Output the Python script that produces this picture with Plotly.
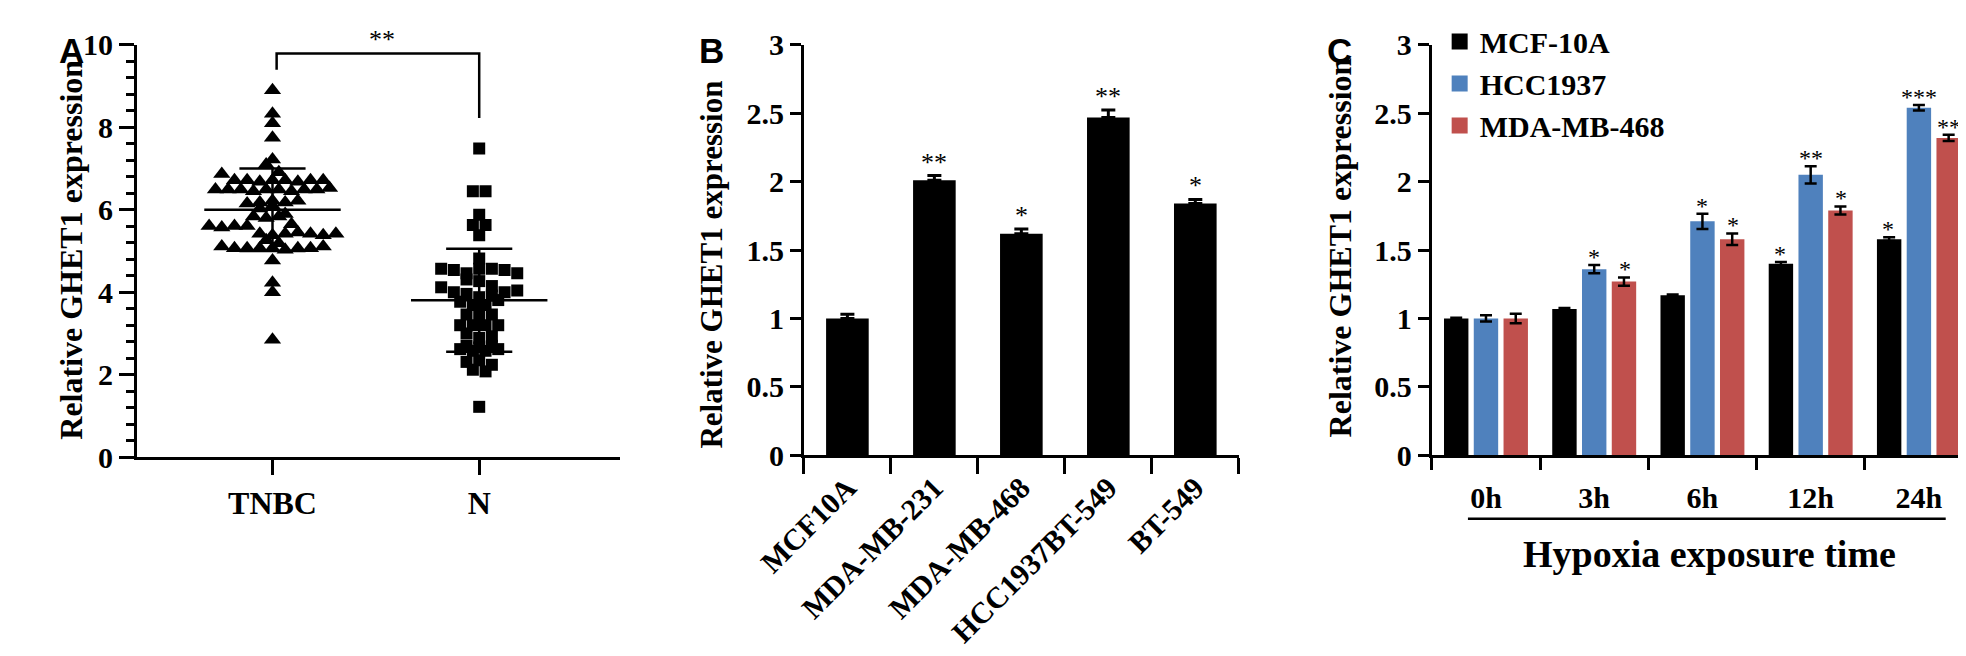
import numpy as np
import plotly.graph_objects as go

W, H = 1966, 656
SERIF = "Liberation Serif"
SANS = "Liberation Sans"

# ---- panel A: scatter of relative expression ----
groups_a = ["TNBC", "N"]
tnbc_vals = [
    8.90, 8.33, 8.10, 7.75, 7.22, 7.10, 6.87, 6.91,
    6.72, 6.72, 6.68, 6.72, 6.72, 6.68, 6.72, 6.72,
    6.49, 6.49, 6.49, 6.45, 6.49, 6.49, 6.45, 6.49, 6.49, 6.53,
    6.15, 6.18, 6.22, 6.18, 6.22, 6.03, 6.10, 5.90,
    5.84, 5.80, 5.84, 5.61, 5.57, 5.65, 5.61, 5.61,
    5.42, 5.38, 5.42, 5.45, 5.42, 5.38, 5.42, 5.26, 5.19,
    5.11, 5.07, 5.07, 5.07, 5.07, 5.03, 5.07, 5.07, 5.11,
    4.77, 4.23, 4.00, 2.85,
]
normal_vals = [
    7.49, 6.45, 6.45, 5.88, 5.63, 5.63, 5.38, 4.82,
    4.57, 4.54, 4.46, 4.57, 4.57, 4.54, 4.46,
    4.31, 4.27, 4.12, 4.15,
    4.00, 3.96, 3.88, 3.77, 3.69, 3.69, 3.81, 3.92, 4.00, 4.04,
    3.46, 3.46, 3.46, 3.20, 3.20, 3.20, 3.20, 3.00, 2.89, 2.93,
    2.70, 2.62, 2.58, 2.58, 2.62, 2.66, 2.70,
    2.31, 2.35, 2.24, 2.12, 2.08, 1.22,
]
sig_a = "**"

# ---- panel B: cell lines ----
cells_b = ["MCF10A", "MDA-MB-231", "MDA-MB-468", "HCC1937BT-549", "BT-549"]
vals_b = [1.00, 2.01, 1.62, 2.47, 1.84]
err_b = [0.03, 0.035, 0.035, 0.055, 0.03]
sig_b = ["", "**", "*", "**", "*"]

# ---- panel C: hypoxia time course ----
times_c = ["0h", "3h", "6h", "12h", "24h"]
names_c = ["MCF-10A", "HCC1937", "MDA-MB-468"]
colors_c = ["#000000", "#4F81BD", "#C0504D"]
mcf10a_vals = [1.00, 1.07, 1.17, 1.40, 1.58]
mcf10a_err = [0.005, 0.006, 0.006, 0.012, 0.014]
mcf10a_sig = ["", "", "", "*", "*"]
hcc1937_vals = [1.00, 1.36, 1.71, 2.05, 2.54]
hcc1937_err = [0.023, 0.03, 0.055, 0.063, 0.02]
hcc1937_sig = ["", "*", "*", "**", "***"]
mda468_vals = [1.00, 1.27, 1.58, 1.79, 2.32]
mda468_err = [0.035, 0.03, 0.042, 0.029, 0.023]
mda468_sig = ["", "*", "*", "*", "**"]

# layout geometry (pixels in the 1966x656 canvas)
A_X = (82, 577)
A_CAT = (221, 433)
B_X = (766, 1212)
C_X = (1410, 1965)
A_Y = (455, 21)      # pixel rows of y=0 and y=10
BC_Y = (453, 21)     # pixel rows of y=0 and y=3


def px(x):
    return x / W


def py(y):
    return 1 - y / H


def swarm_offsets(values, row_h, step):
    # GraphPad-style: bin into rows, spread each row evenly around the centre
    rows = {}
    for idx, v in enumerate(values):
        rows.setdefault(round(v / row_h), []).append(idx)
    offs = np.zeros(len(values))
    for members in rows.values():
        n = len(members)
        for j, idx in enumerate(members):
            offs[idx] = (j - (n - 1) / 2) * step
    return offs


fig = go.Figure()

# ---------------- panel A ----------------
a_px_x = (A_CAT[1] - A_CAT[0])
a_range = [-(A_CAT[0] - A_X[0]) / a_px_x, 1 + (A_X[1] - A_CAT[1]) / a_px_x]

for i, (vals, sym, size) in enumerate([(tnbc_vals, "triangle-up", 15),
                                       (normal_vals, "square", 12)]):
    offs = swarm_offsets(vals, 0.25, 13.0 / a_px_x)
    fig.add_trace(go.Scatter(
        x=i + offs, y=vals, mode="markers", xaxis="x", yaxis="y",
        marker=dict(symbol=sym, size=size, color="black", line=dict(width=0)),
        showlegend=False, hoverinfo="y",
    ))
    m = float(np.mean(vals))
    s = float(np.std(vals, ddof=1))
    mean_half, cap_half = 0.33, 0.16
    fig.add_trace(go.Scatter(
        x=[i - mean_half, i + mean_half, None, i - cap_half, i + cap_half, None,
           i - cap_half, i + cap_half, None, i, i],
        y=[m, m, None, m + s, m + s, None, m - s, m - s, None, m - s, m + s],
        mode="lines", line=dict(color="black", width=2.5),
        xaxis="x", yaxis="y", showlegend=False, hoverinfo="skip",
    ))

# significance bracket
fig.add_trace(go.Scatter(
    x=[0.02, 0.02, 1, 1], y=[9.4, 9.79, 9.79, 8.23], mode="lines",
    line=dict(color="black", width=2.5), xaxis="x", yaxis="y",
    showlegend=False, hoverinfo="skip",
))

# ---------------- panel B ----------------
fig.add_trace(go.Bar(
    x=cells_b, y=vals_b, width=0.49, xaxis="x2", yaxis="y2",
    marker=dict(color="black", line=dict(width=0)),
    error_y=dict(type="data", array=err_b, arrayminus=[0] * len(err_b),
                 color="black", thickness=3, width=7),
    showlegend=False,
))

# ---------------- panel C ----------------
c_vals = [mcf10a_vals, hcc1937_vals, mda468_vals]
c_errs = [mcf10a_err, hcc1937_err, mda468_err]
c_sigs = [mcf10a_sig, hcc1937_sig, mda468_sig]
for name, col, v, e in zip(names_c, colors_c, c_vals, c_errs):
    fig.add_trace(go.Bar(
        x=times_c, y=v, name=name, xaxis="x3", yaxis="y3",
        marker=dict(color=col, line=dict(width=0)), showlegend=False,
        error_y=dict(type="data", array=e, color="black", thickness=2.5, width=6),
    ))
# legend entries with bigger square swatches
for name, col in zip(names_c, colors_c):
    fig.add_trace(go.Scatter(
        x=[None], y=[None], mode="markers", name=name, xaxis="x3", yaxis="y3",
        marker=dict(symbol="square", size=16, color=col, line=dict(width=0)),
    ))

annotations = []
star_font = dict(family=SERIF, size=26, color="black")

# panel letters
for letter, x0 in [("A", 0), ("B", 656), ("C", 1300)]:
    annotations.append(dict(
        text=letter, x=px(x0), y=py(4), xref="paper", yref="paper",
        xanchor="left", yanchor="top", showarrow=False,
        font=dict(family=SANS, size=35, color="black", weight="bold"),
    ))

# y axis titles
for xc, yc, fs in [(14, 237, 32), (671, 252, 31), (1316, 234, 32)]:
    annotations.append(dict(
        text="Relative GHET1 expression", x=px(xc), y=py(yc),
        xref="paper", yref="paper", textangle=-90, showarrow=False,
        xanchor="center", yanchor="middle",
        font=dict(family=SERIF, size=fs, color="black", weight="bold"),
    ))

# panel A significance stars
annotations.append(dict(
    text=sig_a, x=0.53, y=9.79, xref="x", yref="y", yanchor="bottom",
    yshift=-2, showarrow=False, font=star_font,
))

# panel B stars
for cat, v, e, s in zip(cells_b, vals_b, err_b, sig_b):
    if s:
        annotations.append(dict(
            text=s, x=cat, y=v + e, xref="x2", yref="y2", yanchor="bottom",
            yshift=-3, showarrow=False, font=star_font,
        ))

# panel C stars
bargap_c, groupgap_c = 0.175, 0.18
group_px = (C_X[1] - C_X[0]) / len(times_c)
slot_px = group_px * (1 - bargap_c) / len(names_c)
for k, (v, e, sg) in enumerate(zip(c_vals, c_errs, c_sigs)):
    for cat, vv, ee, s in zip(times_c, v, e, sg):
        if s:
            annotations.append(dict(
                text=s, x=cat, y=vv + ee, xref="x3", yref="y3",
                xshift=(k - 1) * slot_px, yanchor="bottom", yshift=-7,
                showarrow=False, font=dict(family=SERIF, size=24, color="black"),
            ))

# panel C x title
annotations.append(dict(
    text="Hypoxia exposure time", x=px(1695), y=py(557), xref="paper", yref="paper",
    xanchor="center", yanchor="middle", showarrow=False,
    font=dict(family=SERIF, size=38, color="black", weight="bold"),
))

tick_font = dict(family=SERIF, size=30, color="black", weight="bold")
axis_common = dict(showline=True, linecolor="black", linewidth=3, showgrid=False,
                   zeroline=False, tickcolor="black", tickwidth=3, tickfont=tick_font)

fig.update_layout(
    width=W, height=H, autosize=False,
    margin=dict(l=0, r=0, t=0, b=0),
    paper_bgcolor="white", plot_bgcolor="white",
    barmode="group", bargap=bargap_c, bargroupgap=groupgap_c,
    font=dict(family=SERIF, color="black"),
    xaxis=dict(domain=[px(A_X[0]), px(A_X[1])], range=a_range,
               tickvals=[0, 1], ticktext=groups_a, ticks="outside", ticklen=15,
               anchor="y", **{**axis_common,
                              "tickfont": dict(family=SERIF, size=32, color="black",
                                               weight="bold")}),
    yaxis=dict(domain=[py(A_Y[0]), py(A_Y[1])], range=[0, 10], dtick=2,
               ticks="outside", ticklen=15, anchor="x",
               minor=dict(dtick=0.4, ticks="outside", ticklen=8, tickwidth=3,
                          tickcolor="black"),
               **axis_common),
    xaxis2=dict(domain=[px(B_X[0]), px(B_X[1])], anchor="y2", type="category",
                tickson="boundaries", ticks="outside", ticklen=16, tickangle=-45,
                **axis_common),
    yaxis2=dict(domain=[py(BC_Y[0]), py(BC_Y[1])], range=[0, 3], dtick=0.5,
                ticks="outside", ticklen=11, anchor="x2", **axis_common),
    xaxis3=dict(domain=[px(C_X[0]), px(C_X[1])], anchor="y3", type="category",
                tickson="boundaries", ticks="outside", ticklen=12,
                ticklabelstandoff=14, **axis_common),
    yaxis3=dict(domain=[py(BC_Y[0]), py(BC_Y[1])], range=[0, 3], dtick=0.5,
                ticks="outside", ticklen=11, anchor="x3", **axis_common),
    legend=dict(x=px(1418), y=py(-10), xanchor="left", yanchor="top",
                bgcolor="rgba(0,0,0,0)", itemwidth=30, tracegroupgap=0,
                itemsizing="trace",
                font=dict(family=SERIF, size=30, color="black", weight="bold")),
    annotations=annotations,
    shapes=[dict(type="line", xref="paper", yref="paper",
                 x0=px(1447), x1=px(1937), y0=py(520), y1=py(520),
                 line=dict(color="black", width=2.5))],
)

fig.write_html("out.html")
